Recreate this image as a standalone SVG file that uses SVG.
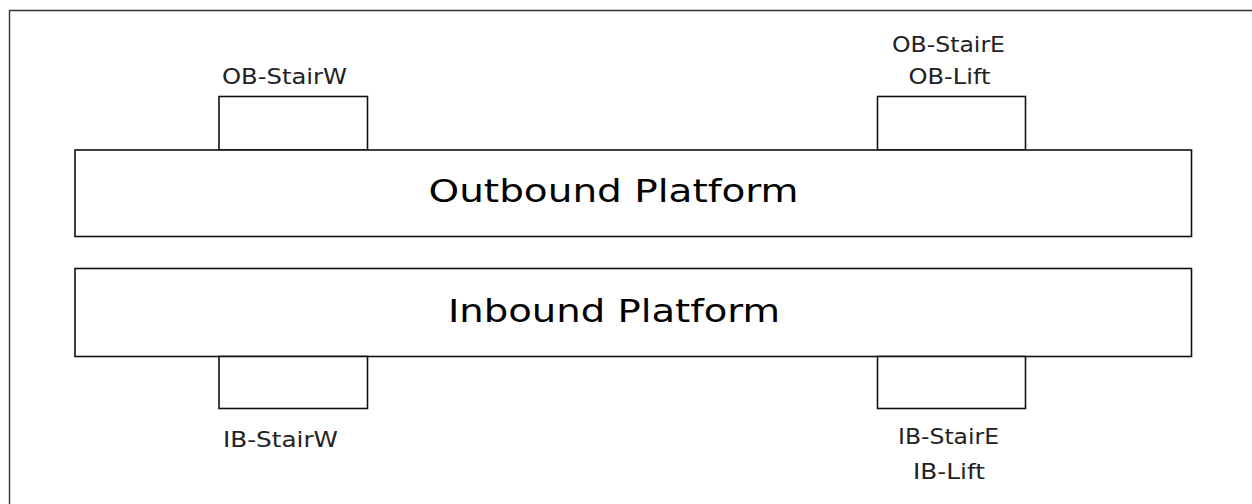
<svg xmlns="http://www.w3.org/2000/svg" width="1252" height="504" viewBox="0 0 1252 504">
<style>
.box{fill:#fff;stroke:#111;stroke-width:1.6}
.frame{fill:none;stroke:#333;stroke-width:1.4}
.sm{font-family:"DejaVu Sans",Verdana,sans-serif;font-size:21.5px;fill:#222}
.lg{font-family:"DejaVu Sans",Verdana,sans-serif;font-size:32px;fill:#000}
</style>
<rect x="0" y="0" width="1252" height="504" fill="#fff"/>
<path class="frame" d="M9.5,504 V10.5 H1252"/>
<g id="ob-stairw">
<rect class="box" x="219" y="96.5" width="148.5" height="53.5"/>
<text class="sm" x="222" y="84" textLength="125" lengthAdjust="spacingAndGlyphs">OB-StairW</text>
</g>
<g id="ob-staire">
<rect class="box" x="877.5" y="96.5" width="148" height="53.5"/>
<text class="sm" x="892" y="51.5" textLength="113" lengthAdjust="spacingAndGlyphs">OB-StairE</text>
<text class="sm" x="908.5" y="83.5" textLength="82" lengthAdjust="spacingAndGlyphs">OB-Lift</text>
</g>
<g id="outbound">
<rect class="box" x="75" y="150" width="1116.5" height="86.5"/>
<text class="lg" x="428.5" y="201.5" textLength="370" lengthAdjust="spacingAndGlyphs">Outbound Platform</text>
</g>
<g id="inbound">
<rect class="box" x="75" y="268.5" width="1116.5" height="88"/>
<text class="lg" x="448" y="321.5" textLength="332" lengthAdjust="spacingAndGlyphs">Inbound Platform</text>
</g>
<g id="ib-stairw">
<rect class="box" x="219" y="356.5" width="148.5" height="52"/>
<text class="sm" x="223" y="446.5" textLength="115" lengthAdjust="spacingAndGlyphs">IB-StairW</text>
</g>
<g id="ib-staire">
<rect class="box" x="877.5" y="356.5" width="148" height="52"/>
<text class="sm" x="898" y="443.5" textLength="101" lengthAdjust="spacingAndGlyphs">IB-StairE</text>
<text class="sm" x="913" y="478.5" textLength="72" lengthAdjust="spacingAndGlyphs">IB-Lift</text>
</g>
<g id="connectors"></g>
</svg>
